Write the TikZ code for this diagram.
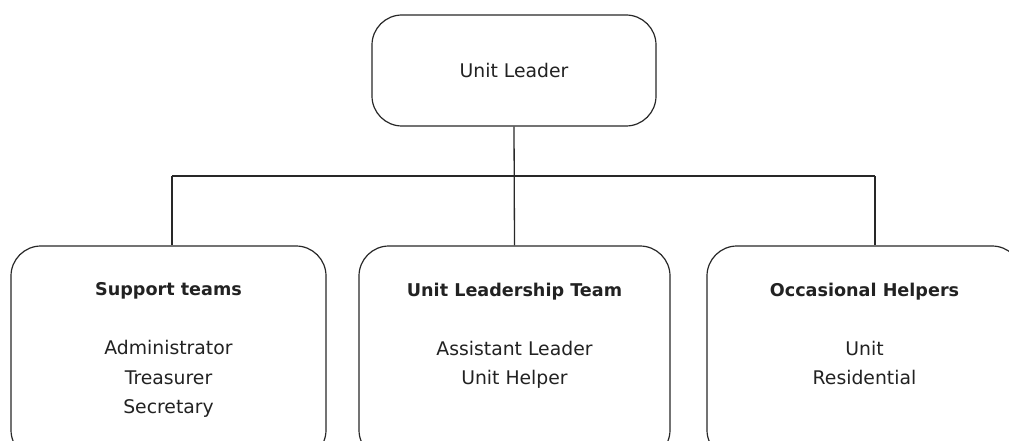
\documentclass[tikz,border=0pt]{standalone}
\usepackage{fontspec}
\setmainfont{DejaVu Sans}
\usetikzlibrary{
  positioning
}
\usepackage{xcolor}
\definecolor{ink}{RGB}{34,34,34}
\definecolor{edge}{RGB}{40,40,40}

\newcommand{\grouphead}[1]{{\fontsize{17.6}{29.5}\selectfont\bfseries #1}}

\tikzset{
  rolebox/.style={draw=edge, line width=1.2pt, rounded corners=30pt, fill=white},
  rolelist/.style={font=\fontsize{18.8}{29.5}\selectfont\color{ink}, align=center, anchor=north},
  link/.style={draw=edge, line width=1.3pt}
}

\begin{document}
\begin{tikzpicture}[x=1pt, y=-1pt]
  \useasboundingbox (0,0) rectangle (1009,441);
  \clip (0,0) rectangle (1009,441);

  % the leader at the top
  \node[rolebox, minimum width=284pt, minimum height=111pt,
        font=\fontsize{18.8}{22}\selectfont\color{ink}] (leader) at (514,70.5) {Unit Leader};

  % the three groups below
  \node[rolebox, minimum width=315pt, minimum height=214pt] (support) at (168.5,353) {};
  \node[rolebox, minimum width=311pt, minimum height=214pt] (leadteam) at (514.5,353) {};
  \node[rolebox, minimum width=315pt, minimum height=214pt] (helpers) at (864.5,353) {};

  \node[rolelist, below=34pt] at (support.north)
    {\grouphead{Support teams}\\[29.5pt]Administrator\\Treasurer\\Secretary};
  \node[rolelist, below=34pt] at (leadteam.north)
    {\grouphead{Unit Leadership Team}\\[29.5pt]Assistant Leader\\Unit Helper};
  \node[rolelist, below=34pt] at (helpers.north)
    {\grouphead{Occasional Helpers}\\[29.5pt]Unit\\Residential};

  % tree connectors
  \coordinate (busL) at (172,176);
  \coordinate (busR) at (875,176);
  \draw[link] (leader.south) -- (leadteam.north);
  \draw[link] (busL) -- (busR);
  \draw[link] (busL) -- (busL |- support.north);
  \draw[link] (busR) -- (busR |- helpers.north);
\end{tikzpicture}
\end{document}
